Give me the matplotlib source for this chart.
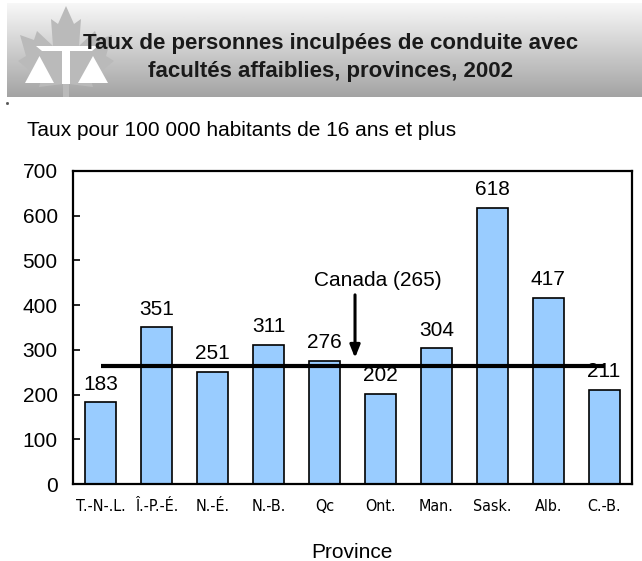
import numpy as np
import matplotlib
matplotlib.use("Agg")
import matplotlib.pyplot as plt
from matplotlib.patches import Polygon, Rectangle
from matplotlib import font_manager as fm

plt.rcParams['font.family'] = ['Liberation Sans', 'DejaVu Sans']

provinces = ["T.-N-.L.", "Î.-P.-É.", "N.-É.", "N.-B.", "Qc", "Ont.", "Man.", "Sask.", "Alb.", "C.-B."]
rates = [183, 351, 251, 311, 276, 202, 304, 618, 417, 211]
canada_rate = 265
y_ticks = [0, 100, 200, 300, 400, 500, 600, 700]

title_lines = ["Taux de personnes inculpées de conduite avec",
               "facultés affaiblies, provinces, 2002"]
subtitle = "Taux pour 100 000 habitants de 16 ans et plus"
xlabel = "Province"
canada_label = f"Canada ({canada_rate})"

# condensed font for category labels, if one is installed
narrow_prop = None
for f in fm.fontManager.ttflist:
    if "Liberation Sans Narrow" == f.name and f.style == "normal" and f.weight in (400, "normal"):
        narrow_prop = fm.FontProperties(fname=f.fname)
        break
if narrow_prop is None:
    for f in fm.fontManager.ttflist:
        fn = f.fname.lower()
        if ("condensed" in fn or "narrow" in fn) and "bold" not in fn and "oblique" not in fn and "italic" not in fn:
            narrow_prop = fm.FontProperties(fname=f.fname)
            break

W, H = 642, 561
fig = plt.figure(figsize=(W / 100, H / 100), dpi=100)
fig.patch.set_facecolor("white")

# background axes in pixel coordinates for the banner
bg = fig.add_axes([0, 0, 1, 1])
bg.set_xlim(0, W)
bg.set_ylim(H, 0)
bg.axis("off")
grad = np.linspace(0.97, 0.64, 256).reshape(-1, 1)
bg.imshow(grad, extent=[7, W, 97, 3], cmap="gray", vmin=0, vmax=1, aspect="auto", zorder=0)

cx = 66
leaf_half = [(0, 6), (8, 24), (15, 19), (13, 46), (29, 31), (32, 40), (46, 35), (40, 56),
             (48, 61), (25, 80), (27, 87), (3, 84), (3, 97)]
leaf = [(cx + dx, y) for dx, y in leaf_half] + [(cx - dx, y) for dx, y in reversed(leaf_half)]
bg.add_patch(Polygon(leaf, closed=True, facecolor="#bababa", edgecolor="none", zorder=1))
bg.add_patch(Polygon([(25, 83), (54, 83), (39.5, 56)], facecolor="white", edgecolor="none", zorder=2))
bg.add_patch(Polygon([(78, 83), (108, 83), (93, 56)], facecolor="white", edgecolor="none", zorder=2))
bg.add_patch(Rectangle((62, 50), 8, 34, facecolor="white", edgecolor="none", zorder=2))
bg.add_patch(Polygon([(36, 46), (98, 46), (92, 51), (42, 51)], facecolor="white", edgecolor="none", zorder=2))
bg.plot([7], [103], marker="s", markersize=1, color="#555555", zorder=2)

bg.text(331, 43, title_lines[0], ha="center", va="center", fontsize=16, fontweight="bold",
        color="#1a1a1a", zorder=3)
bg.text(331, 71, title_lines[1], ha="center", va="center", fontsize=16, fontweight="bold",
        color="#1a1a1a", zorder=3)
bg.text(27, 130, subtitle, ha="left", va="center", fontsize=15, color="black", zorder=3)
bg.text(352, 552, xlabel, ha="center", va="center", fontsize=15, color="black", zorder=3)

ax = fig.add_axes([73 / W, 1 - 484 / H, (632 - 73) / W, (484 - 171) / H])
x = np.arange(len(provinces))
ax.bar(x, rates, width=0.555, color="#99CCFF", edgecolor="black", linewidth=1.2, zorder=2)
for xi, v in zip(x, rates):
    ax.text(xi, v + 28, str(v), ha="center", va="baseline", fontsize=15, zorder=4)

ax.plot([x[0], x[-1]], [canada_rate, canada_rate], color="black", linewidth=3, zorder=3,
        solid_capstyle="butt")
ax.annotate("", xy=(4.545, 282), xytext=(4.545, 423),
            arrowprops=dict(arrowstyle="-|>,head_length=0.75,head_width=0.3", color="black",
                            lw=2.2, shrinkA=0, shrinkB=0),
            zorder=4)
ax.text(4.95, 443, canada_label, ha="center", va="baseline", fontsize=15, zorder=4)

ax.set_xlim(-0.5, len(provinces) - 0.5)
ax.set_ylim(0, 700)
ax.set_yticks(y_ticks)
ax.set_yticklabels([str(t) for t in y_ticks], fontsize=15)
ax.set_xticks(x)
if narrow_prop is not None:
    ax.set_xticklabels(provinces, fontproperties=narrow_prop, fontsize=11.5)
else:
    ax.set_xticklabels(provinces, fontsize=11)
ax.tick_params(axis="x", length=0, pad=11)
ax.tick_params(axis="y", direction="in", length=5, width=1.2, pad=11)
for s in ax.spines.values():
    s.set_linewidth(1.6)
    s.set_color("black")
ax.set_facecolor("none")

fig.savefig("out.png", dpi=100)
